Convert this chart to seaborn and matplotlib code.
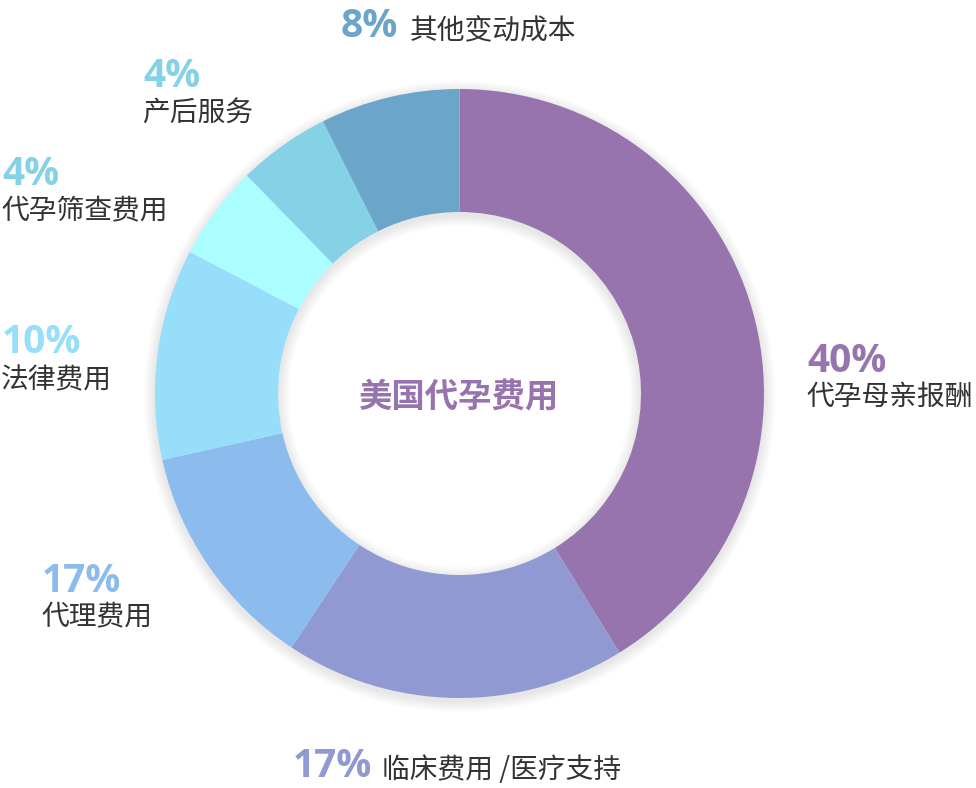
import matplotlib
matplotlib.use('Agg')
import matplotlib.pyplot as plt
import seaborn as sns
from matplotlib.patches import Wedge

# slice sizes as drawn (clockwise from 12 o'clock), labels as printed
slice_names = ['代孕母亲报酬', '临床费用 /医疗支持', '代理费用', '法律费用',
               '代孕筛查费用', '产后服务', '其他变动成本']
slice_values = [41.2, 18.1, 12.2, 11.2, 5.0, 4.9, 7.4]
pct_labels = ['40%', '17%', '17%', '10%', '4%', '4%', '8%']
slice_colors = ['#9874AF', '#9099D2', '#8CBBED', '#96DEFA', '#ABFEFF', '#85D1E6', '#6BA5C9']
pct_colors = ['#9874AF', '#9099D2', '#8CBBED', '#96DEFA', '#85D1E6', '#85D1E6', '#6BA5C9']
center_title = '美国代孕费用'

sns.set_theme(style='white')
plt.rcParams['font.family'] = ['Noto Sans CJK SC', 'DejaVu Sans']

W, H = 976, 788
fig = plt.figure(figsize=(W / 100, H / 100), dpi=100)
ax = fig.add_axes([0, 0, 1, 1])

cx, cy = 459.5, H - 393.5
r_out, r_in = 304.5, 181.5

# soft shadow under the ring
for k in range(1, 9):
    ax.add_patch(Wedge((cx, cy - 3), r_out + k * 1.4, 0, 360, width=(r_out - r_in) + k * 2.8,
                       facecolor='black', edgecolor='none', alpha=0.011, zorder=1))

wedges, _ = ax.pie(slice_values, colors=slice_colors, startangle=90, counterclock=False,
                   center=(cx, cy), radius=r_out,
                   wedgeprops=dict(width=r_out - r_in, edgecolor='none', zorder=2))
for w in wedges:
    w.set_zorder(2)

ax.set_xlim(0, W)
ax.set_ylim(0, H)
ax.set_aspect('auto')
ax.axis('off')

# label positions in picture pixels: (x, baseline of percent, x of name, baseline of name)
pct_pos = [(807, 372), (293, 777), (42, 592), (2, 353), (2, 185), (143, 87), (341, 37)]
name_pos = [(806, 405), (382, 778), (41, 624.5), (1, 388), (1, 219.5), (142, 122), (410, 39.5)]

for i in range(len(slice_names)):
    px, py = pct_pos[i]
    ax.text(px, H - py, pct_labels[i], color=pct_colors[i], fontsize=28,
            fontweight='bold', family=['Open Sans', 'DejaVu Sans'],
            ha='left', va='baseline', zorder=5)
    nx, ny = name_pos[i]
    ax.text(nx, H - ny, slice_names[i], color='#333333', fontsize=20,
            ha='left', va='baseline', zorder=5)

ax.text(458, H - 407, center_title, color='#9874AF', fontsize=24, fontweight='bold',
        ha='center', va='baseline', zorder=5)

fig.savefig('out.png', dpi=100, facecolor='white')
plt.close(fig)
